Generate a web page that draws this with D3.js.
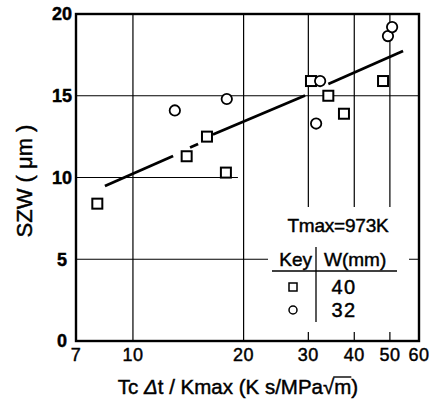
<!DOCTYPE html>
<html>
<head>
<meta charset="utf-8">
<script src="https://cdn.jsdelivr.net/npm/d3@7"></script>
<style>
  body { margin: 0; background: #fff; }
  text { font-family: "Liberation Sans", Arial, sans-serif; fill: #000; stroke: #000; stroke-width: 0.45px; }
</style>
</head>
<body>
<svg id="chart" width="441" height="400"></svg>
<script>
// Axis ticks
const xTickValues = [7, 10, 20, 30, 40, 50, 60];
const yTickValues = [0, 5, 10, 15, 20];

// W = 40 mm specimens (squares)
const w40X = [8.0, 14.0, 15.9, 17.9, 30.5, 34.0, 37.5, 47.9];
const w40Y = [8.4, 11.3, 12.5, 10.3, 15.9, 15.0, 13.9, 15.9];

// W = 32 mm specimens (circles)
const w32X = [13.0, 18.0, 32.3, 31.5, 49.4, 50.7];
const w32Y = [14.1, 14.8, 15.9, 13.3, 18.65, 19.2];

// Trend line, drawn in broken pieces: [x0, y0, x1, y1]
const trendPieces = [
  [8.39, 9.48, 12.86, 11.31],
  [14.3, 11.83, 15.04, 12.05],
  [16.5, 12.63, 29.4, 15.02],
  [34.0, 15.72, 54.3, 17.74]
];

// Horizontal grid lines: value, x extent
const hGridY = [15, 10, 5];
const hGridTo = [60, 19.3, 60];
// Vertical grid lines
const vGridX = [10, 20, 30, 40, 50];

// Legend
const legendTitle = "Tmax=973K";
const legendKeys = ["40", "32"];

const svg = d3.select("#chart");
const W = 441, H = 400;
const m = { left: 76, right: 22, top: 14, bottom: 59 };
const x = d3.scaleLog().domain([7, 60]).range([m.left, W - m.right]);
const y = d3.scaleLinear().domain([0, 20]).range([H - m.bottom, m.top]);

// Grid
const grid = svg.append("g").attr("stroke", "#000").attr("stroke-width", 1.2);
hGridY.forEach((v, i) => {
  grid.append("line")
    .attr("x1", x(7)).attr("x2", x(hGridTo[i]))
    .attr("y1", y(v)).attr("y2", y(v));
});
vGridX.forEach(v => {
  grid.append("line")
    .attr("x1", x(v)).attr("x2", x(v))
    .attr("y1", y(20)).attr("y2", y(0));
});

// Legend panel blanks the grid behind it
svg.append("rect")
  .attr("x", 268).attr("y", 207).attr("width", 141).attr("height", 125)
  .attr("fill", "#fff");

// Frame
svg.append("rect")
  .attr("x", x(7)).attr("y", y(20))
  .attr("width", x(60) - x(7)).attr("height", y(0) - y(20))
  .attr("fill", "none").attr("stroke", "#000").attr("stroke-width", 2.4);

// Y tick labels
svg.append("g").selectAll("text").data(yTickValues).join("text")
  .attr("x", 62).attr("y", d => y(d))
  .attr("dy", "0.35em")
  .attr("text-anchor", "middle")
  .attr("font-size", 18).attr("font-weight", "bold")
  .text(d => d);

// X tick labels
svg.append("g").selectAll("text").data(xTickValues).join("text")
  .attr("x", d => x(d)).attr("y", 361)
  .attr("text-anchor", "middle")
  .attr("font-size", 18)
  .attr("letter-spacing", 0.5)
  .text(d => d);

// Trend line
svg.append("g").selectAll("line").data(trendPieces).join("line")
  .attr("x1", d => x(d[0])).attr("y1", d => y(d[1]))
  .attr("x2", d => x(d[2])).attr("y2", d => y(d[3]))
  .attr("stroke", "#000").attr("stroke-width", 2.8);

// Squares
const sq = 10;
svg.append("g").selectAll("rect").data(d3.range(w40X.length)).join("rect")
  .attr("x", i => x(w40X[i]) - sq / 2).attr("y", i => y(w40Y[i]) - sq / 2)
  .attr("width", sq).attr("height", sq)
  .attr("fill", "#fff").attr("stroke", "#000").attr("stroke-width", 2);

// Circles
svg.append("g").selectAll("circle").data(d3.range(w32X.length)).join("circle")
  .attr("cx", i => x(w32X[i])).attr("cy", i => y(w32Y[i]))
  .attr("r", 5.2)
  .attr("fill", "#fff").attr("stroke", "#000").attr("stroke-width", 1.8);

// Legend contents
const lg = svg.append("g");
lg.append("text").attr("x", 338).attr("y", 232)
  .attr("text-anchor", "middle").attr("font-size", 19)
  .attr("letter-spacing", -0.2)
  .text(legendTitle);
lg.append("text").attr("x", 312).attr("y", 266)
  .attr("text-anchor", "end").attr("font-size", 19)
  .text("Key");
lg.append("text").attr("x", 324).attr("y", 266)
  .attr("font-size", 19)
  .text("W(mm)");
lg.append("line").attr("x1", 272).attr("x2", 397).attr("y1", 271).attr("y2", 271)
  .attr("stroke", "#000").attr("stroke-width", 1.3);
lg.append("line").attr("x1", 316).attr("x2", 316).attr("y1", 247).attr("y2", 322)
  .attr("stroke", "#000").attr("stroke-width", 1.3);
lg.append("rect").attr("x", 289).attr("y", 283).attr("width", 8).attr("height", 8)
  .attr("fill", "#fff").attr("stroke", "#000").attr("stroke-width", 1.5);
lg.append("circle").attr("cx", 293).attr("cy", 310).attr("r", 4)
  .attr("fill", "#fff").attr("stroke", "#000").attr("stroke-width", 1.5);
lg.selectAll("text.key").data(legendKeys).join("text")
  .attr("class", "key")
  .attr("x", 344).attr("y", (d, i) => 294 + i * 23)
  .attr("text-anchor", "middle").attr("font-size", 20)
  .attr("letter-spacing", 1.5)
  .text(d => d);

// Y axis title
svg.append("text")
  .attr("transform", "translate(32,181) rotate(-90)")
  .attr("text-anchor", "middle").attr("font-size", 22)
  .text("SZW ( μm )");

// X axis title
const xt = svg.append("text")
  .attr("x", 238).attr("y", 394)
  .attr("text-anchor", "middle").attr("font-size", 20.5);
xt.append("tspan").text("Tc ");
xt.append("tspan").attr("font-style", "italic").text("Δ");
xt.append("tspan").text("t / Kmax (K s/MPa√m)");
// Bar over the radicand
{
  const node = xt.node();
  const full = node.textContent;
  const idx = full.lastIndexOf("m");
  const ext = node.getExtentOfChar(idx);
  const rad = node.getExtentOfChar(idx - 1);
  svg.append("line")
    .attr("x1", rad.x + rad.width - 1).attr("x2", ext.x + ext.width)
    .attr("y1", rad.y + 2).attr("y2", rad.y + 2)
    .attr("stroke", "#000").attr("stroke-width", 1.4);
}
</script>
</body>
</html>
